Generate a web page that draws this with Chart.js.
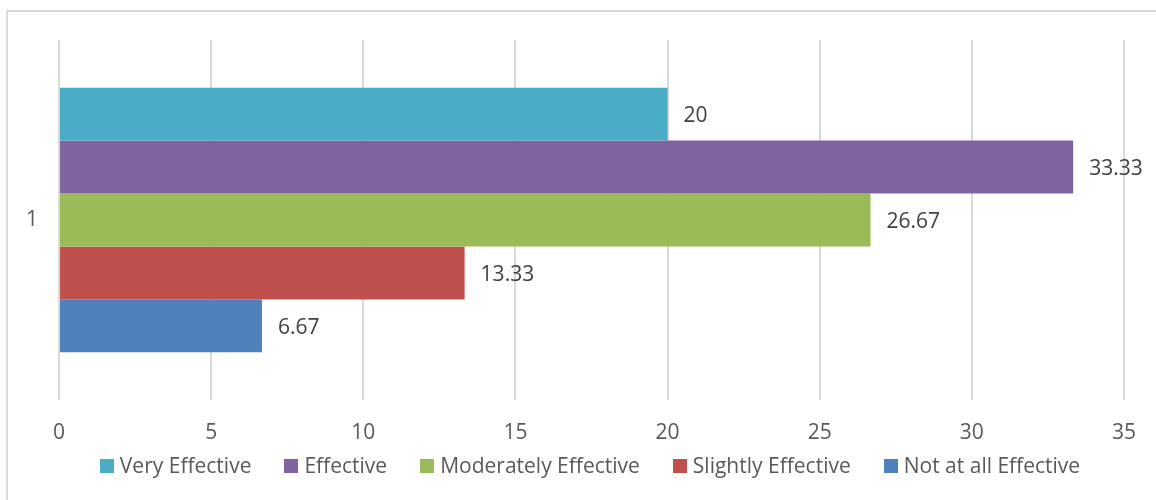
<!DOCTYPE html>
<html>
<head>
<meta charset="utf-8">
<script src="https://cdn.jsdelivr.net/npm/chart.js@4"></script>
<style>
    html, body { margin: 0; padding: 0; background: #fff; overflow: hidden; }
    #wrap { position: relative; width: 1156px; height: 500px; overflow: hidden; }
    #frame { position: absolute; left: 6px; top: 10px; width: 1200px; height: 600px; border: 2px solid #d9d9d9; box-sizing: border-box; }
    #chart { position: absolute; left: 0; top: 0; }
</style>
</head>
<body>
<div id="wrap">
    <div id="frame"></div>
    <canvas id="chart" width="1156" height="500"></canvas>
</div>
<script>
const categories = ['1'];
const seriesNames = ['Very Effective', 'Effective', 'Moderately Effective', 'Slightly Effective', 'Not at all Effective'];
const veryEffective = [20];
const effective = [33.33];
const moderatelyEffective = [26.67];
const slightlyEffective = [13.33];
const notAtAllEffective = [6.67];
const xTicks = [0, 5, 10, 15, 20, 25, 30, 35];

const COLORS = ['#4bacc6', '#8064a2', '#9bbb59', '#c0504d', '#4f81bd'];
const FONT = "'Open Sans', sans-serif";
const TEXT = '#595959';
const FSIZE = 21;

Chart.defaults.font.family = FONT;
Chart.defaults.font.size = FSIZE;
Chart.defaults.color = TEXT;

// value labels to the right of each bar
const barLabels = {
    id: 'barLabels',
    afterDatasetsDraw(chart) {
        const ctx = chart.ctx;
        ctx.save();
        ctx.font = FSIZE + 'px ' + FONT;
        ctx.fillStyle = '#404040';
        ctx.textAlign = 'left';
        ctx.textBaseline = 'middle';
        chart.data.datasets.forEach((ds, i) => {
            chart.getDatasetMeta(i).data.forEach((bar, j) => {
                ctx.fillText(String(ds.data[j]), bar.x + 16, bar.y + 2);
            });
        });
        ctx.restore();
    }
};

// legend row under the axis, Excel style spacing
const bottomLegend = {
    id: 'bottomLegend',
    afterDraw(chart) {
        const ctx = chart.ctx;
        const box = 14, gap = 6, itemGap = 33, cy = 466, cx = 590;
        ctx.save();
        ctx.font = FSIZE + 'px ' + FONT;
        ctx.textBaseline = 'middle';
        ctx.textAlign = 'left';
        const items = chart.data.datasets.map(ds => ({
            text: ds.label, color: ds.backgroundColor, w: ctx.measureText(ds.label).width
        }));
        const total = items.reduce((s, it) => s + box + gap + it.w, 0) + itemGap * (items.length - 1);
        let x = cx - total / 2;
        items.forEach(it => {
            ctx.fillStyle = it.color;
            ctx.fillRect(Math.round(x), cy - box / 2, box, box);
            ctx.fillStyle = TEXT;
            ctx.fillText(it.text, x + box + gap, cy + 1);
            x += box + gap + it.w + itemGap;
        });
        ctx.restore();
    }
};

const seriesData = [veryEffective, effective, moderatelyEffective, slightlyEffective, notAtAllEffective];

new Chart(document.getElementById('chart'), {
    type: 'bar',
    data: {
        labels: categories,
        datasets: seriesNames.map((name, i) => ({
            label: name,
            data: seriesData[i],
            backgroundColor: COLORS[i],
            borderWidth: 0,
            barPercentage: 1,
            categoryPercentage: 0.735
        }))
    },
    options: {
        indexAxis: 'y',
        responsive: false,
        animation: false,
        layout: { padding: { top: 40, left: 0, right: 0, bottom: 0 } },
        plugins: {
            legend: { display: false },
            tooltip: { enabled: false }
        },
        scales: {
            x: {
                min: 0,
                max: 35,
                afterBuildTicks(scale) {
                    scale.ticks = xTicks.map(v => ({ value: v }));
                },
                afterFit(scale) {
                    scale.height = 100;
                    scale.paddingRight = 32;
                },
                grid: { color: '#d9d9d9', lineWidth: 2, drawTicks: false },
                border: { display: false },
                ticks: { padding: 20, color: TEXT, autoSkip: false, maxRotation: 0 }
            },
            y: {
                afterFit(scale) { scale.width = 59; },
                grid: { display: false },
                border: { display: false },
                ticks: { padding: 13, color: TEXT }
            }
        }
    },
    plugins: [barLabels, bottomLegend]
});
</script>
</body>
</html>
